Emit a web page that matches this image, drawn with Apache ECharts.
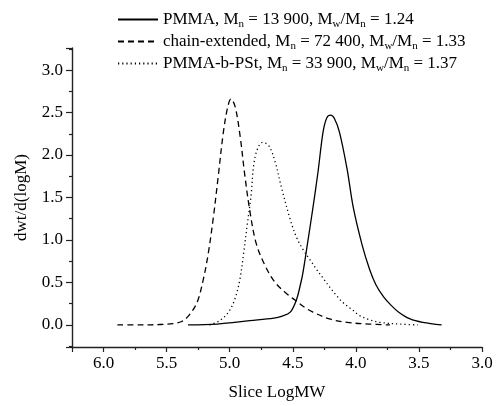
<!DOCTYPE html>
<html>
<head>
<meta charset="utf-8">
<script src="https://cdn.jsdelivr.net/npm/echarts@6/dist/echarts.min.js"></script>
<style>
html,body{margin:0;padding:0;background:#fff;}
#chart{width:496px;height:406px;}
</style>
</head>
<body>
<div id="chart"></div>
<script>
// Series names
const seriesNames = ['PMMA', 'chain-extended', 'PMMA-b-PSt'];

// PMMA (solid)
const pmmaX = [5.33, 5.10, 4.84, 4.65, 4.59, 4.52, 4.47, 4.44, 4.42, 4.38, 4.34, 4.30, 4.26, 4.23, 4.20, 4.17, 4.13, 4.07, 4.02, 3.95, 3.89, 3.84, 3.78, 3.72, 3.66, 3.57, 3.47, 3.32];
const pmmaY = [0.00, 0.01, 0.05, 0.08, 0.10, 0.15, 0.30, 0.47, 0.61, 0.99, 1.38, 1.80, 2.27, 2.44, 2.47, 2.43, 2.27, 1.84, 1.38, 0.94, 0.65, 0.47, 0.33, 0.23, 0.15, 0.07, 0.03, 0.00];

// chain-extended (dashed)
const chainX = [5.89, 5.70, 5.55, 5.45, 5.38, 5.33, 5.26, 5.21, 5.17, 5.13, 5.09, 5.05, 5.015, 4.99, 4.957, 4.918, 4.88, 4.84, 4.79, 4.72, 4.64, 4.55, 4.48, 4.40, 4.34, 4.21, 4.07, 3.90, 3.73];
const chainY = [0.00, 0.00, 0.005, 0.015, 0.04, 0.10, 0.26, 0.53, 0.84, 1.26, 1.76, 2.27, 2.57, 2.66, 2.57, 2.23, 1.76, 1.34, 0.96, 0.70, 0.50, 0.37, 0.29, 0.20, 0.15, 0.07, 0.03, 0.01, 0.00];

// PMMA-b-PSt (dotted)
const blockX = [5.16, 5.08, 5.01, 4.96, 4.92, 4.89, 4.86, 4.83, 4.81, 4.78, 4.74, 4.69, 4.64, 4.59, 4.52, 4.47, 4.42, 4.36, 4.31, 4.26, 4.21, 4.15, 4.10, 4.03, 3.97, 3.89, 3.81, 3.65, 3.51];
const blockY = [0.00, 0.05, 0.15, 0.30, 0.53, 0.84, 1.19, 1.53, 1.88, 2.07, 2.15, 2.11, 1.92, 1.62, 1.24, 1.03, 0.89, 0.76, 0.65, 0.55, 0.45, 0.34, 0.26, 0.18, 0.11, 0.06, 0.03, 0.01, 0.00];

// Legend label parts
const legendPrefix = ['PMMA', 'chain-extended', 'PMMA-b-PSt'];
const legendMn = ['13 900', '72 400', '33 900'];
const legendPdi = ['1.24', '1.33', '1.37'];

const xTickLabels = ['3.0', '3.5', '4.0', '4.5', '5.0', '5.5', '6.0'];
const yTickLabels = ['0.0', '0.5', '1.0', '1.5', '2.0', '2.5', '3.0'];

const zip = (xs, ys) => xs.map((x, i) => [x, ys[i]]);
const FONT = 'Liberation Serif';

function fmtTick(v, list) {
  const s = (Math.round(v * 100) / 100).toFixed(1);
  return (Math.abs(v * 2 - Math.round(v * 2)) < 1e-6 && list.indexOf(s) >= 0) ? s : '';
}

const chart = echarts.init(document.getElementById('chart'), null, {renderer: 'canvas'});
const lineTypes = ['solid', [6, 4], [1.2, 3]];
const datas = [zip(pmmaX, pmmaY), zip(chainX, chainY), zip(blockX, blockY)];
const AX = '#222';

chart.setOption({
  backgroundColor: '#fff',
  animation: false,
  grid: {left: 72, right: 14, top: 48, bottom: 54, containLabel: false},
  legend: {
    orient: 'vertical',
    left: 112,
    top: 6,
    itemWidth: 40,
    itemHeight: 10,
    itemGap: 3,
    data: seriesNames,
    itemStyle: {opacity: 0, borderWidth: 0},
    textStyle: {
      fontFamily: FONT, fontSize: 17, color: '#000',
      rich: {
        a: {fontFamily: FONT, fontSize: 17, color: '#000', lineHeight: 21, verticalAlign: 'middle'},
        s: {fontFamily: FONT, fontSize: 11, color: '#000', lineHeight: 4, verticalAlign: 'bottom'}
      }
    },
    formatter: function (name) {
      const i = seriesNames.indexOf(name);
      return '{a|' + legendPrefix[i] + ', M}{s|n}{a| = ' + legendMn[i] + ', M}{s|w}{a|/M}{s|n}{a| = ' + legendPdi[i] + '}';
    }
  },
  xAxis: {
    type: 'value',
    min: 3.0,
    max: 6.25,
    interval: 0.5,
    inverse: true,
    name: 'Slice LogMW',
    nameLocation: 'middle',
    nameGap: 37,
    nameTextStyle: {fontFamily: FONT, fontSize: 17, color: '#000'},
    axisLine: {show: true, onZero: false, lineStyle: {color: AX, width: 1.4}},
    axisTick: {show: true, inside: false, length: 5, lineStyle: {color: AX, width: 1.2}},
    minorTick: {show: true, splitNumber: 2, length: 3, lineStyle: {color: AX, width: 1.2}},
    splitLine: {show: false},
    axisLabel: {fontFamily: FONT, fontSize: 17, color: '#000', margin: 8,
      formatter: v => fmtTick(v, xTickLabels)}
  },
  yAxis: {
    type: 'value',
    min: -0.26,
    max: 3.26,
    splitNumber: 7,
    name: 'dwt/d(logM)',
    nameLocation: 'middle',
    nameGap: 42,
    nameTextStyle: {fontFamily: FONT, fontSize: 17, color: '#000'},
    axisLine: {show: true, onZero: false, lineStyle: {color: AX, width: 1.4}},
    axisTick: {show: true, inside: false, length: 6, lineStyle: {color: AX, width: 1.2}},
    minorTick: {show: true, splitNumber: 2, length: 3, lineStyle: {color: AX, width: 1.2}},
    splitLine: {show: false},
    axisLabel: {fontFamily: FONT, fontSize: 17, color: '#000', margin: 9,
      formatter: v => fmtTick(v, yTickLabels)}
  },
  series: seriesNames.map((n, i) => ({
    name: n,
    type: 'line',
    data: datas[i],
    symbol: 'none',
    smooth: 0.35,
    lineStyle: {color: '#000', width: 1.3, type: lineTypes[i]},
    itemStyle: {color: '#000'}
  }))
});
</script>
</body>
</html>
